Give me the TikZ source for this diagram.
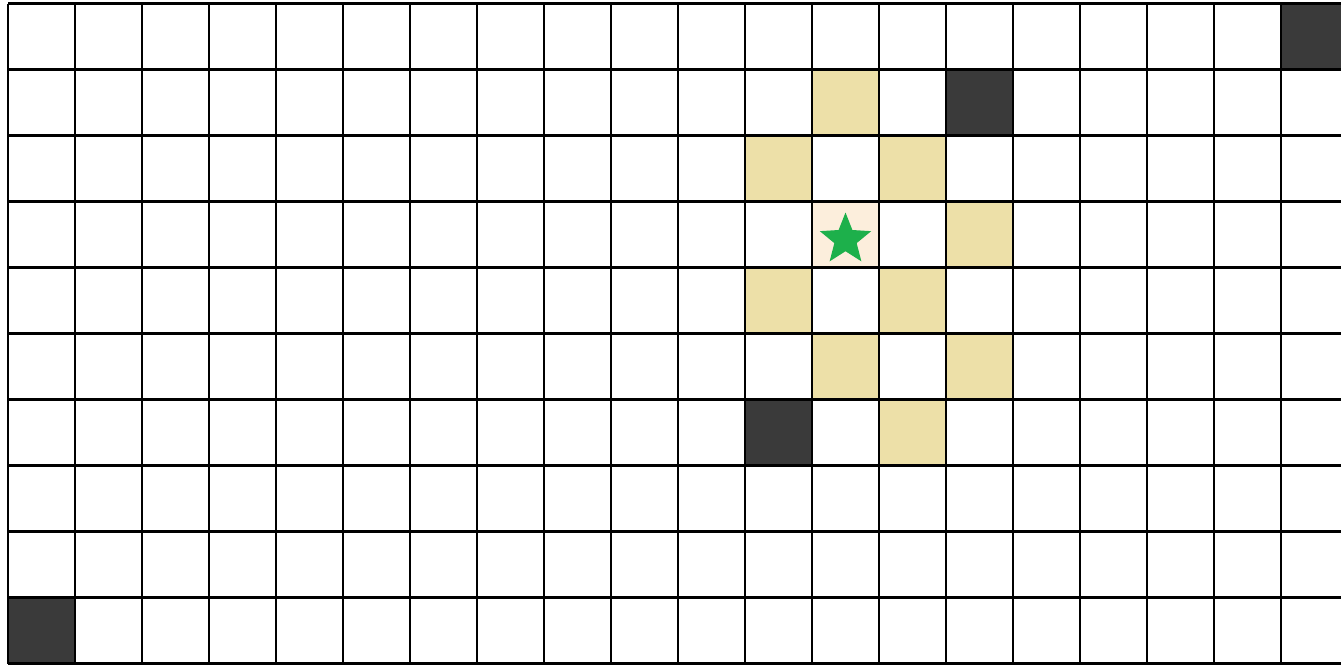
\documentclass[tikz,border=0pt]{standalone}
\usetikzlibrary{shapes.geometric}
\definecolor{tan}{HTML}{EDE0A8}
\definecolor{dark}{HTML}{3A3A3A}
\definecolor{peach}{HTML}{FCEEDC}
\definecolor{stargreen}{HTML}{1DB04B}
\tikzset{
  gridline/.style={line width=2.9pt, black},
  tancell/.style={fill=tan},
  darkcell/.style={fill=dark},
}
\newcommand{\cellfill}[3]{%
  \fill[#3] ({8+67*#1},{3.5+66*#2}) rectangle ({8+67*(#1+1)},{3.5+66*(#2+1)});}
\begin{document}
\begin{tikzpicture}[x=1pt,y=-1pt]
\useasboundingbox (0,0) rectangle (1341,665);
\fill[white] (0,0) rectangle (1341,665);
\clip (0,0) rectangle (1341,665);
% dark cells
\cellfill{19}{0}{darkcell}
\cellfill{14}{1}{darkcell}
\cellfill{11}{6}{darkcell}
\cellfill{0}{9}{darkcell}
% tan cells
\cellfill{12}{1}{tancell}
\cellfill{11}{2}{tancell}
\cellfill{13}{2}{tancell}
\cellfill{14}{3}{tancell}
\cellfill{11}{4}{tancell}
\cellfill{13}{4}{tancell}
\cellfill{12}{5}{tancell}
\cellfill{14}{5}{tancell}
\cellfill{13}{6}{tancell}
% star cell
\cellfill{12}{3}{fill=peach}
% grid
\foreach \k in {0,...,20} {
  \draw[gridline] ({8+67*\k},3.5) -- ({8+67*\k},663.5);
}
\foreach \k in {0,...,10} {
  \draw[gridline] (8,{3.5+66*\k}) -- (1350,{3.5+66*\k});
}
% star
\node[star, star points=5, star point ratio=2.3, fill=stargreen, draw=none,
      minimum size=54pt, inner sep=0pt] (goal) at (845.5,239.5) {};
\end{tikzpicture}
\end{document}
